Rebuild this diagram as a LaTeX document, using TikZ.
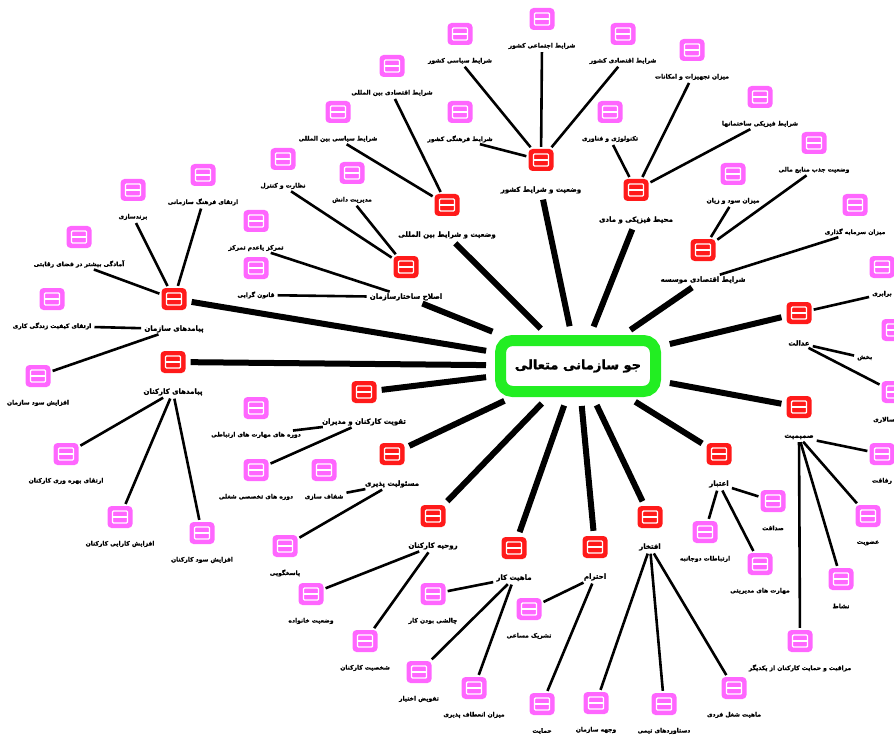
\documentclass[tikz,border=0pt]{standalone}
\usepackage{fontspec}
\usepackage{tikz}
\usetikzlibrary{positioning,calc}
\newfontfamily\fa[Script=Arabic, BoldFeatures={FakeBold=1.2}]{DejaVu Sans}
\TeXXeTstate=1
\newcommand{\pe}[1]{\beginR#1\endR}
\definecolor{hubgreen}{HTML}{22EE22}
\definecolor{mainred}{HTML}{FF1A1A}
\definecolor{subpink}{HTML}{FF66FF}
\begin{document}
\begin{tikzpicture}[
  x=1pt, y=-1pt,
  ico/.style={fill=#1, rounded corners=4pt, minimum width=25pt, minimum height=22pt, inner sep=0pt,
    path picture={
      \draw[white, line width=1.4pt, rounded corners=1pt] ([shift={(5pt,5pt)}]path picture bounding box.south west) rectangle ([shift={(-5pt,-5pt)}]path picture bounding box.north east);
      \draw[white, line width=1.4pt] ([xshift=5pt]path picture bounding box.west) -- ([xshift=-5pt]path picture bounding box.east);
    }},
  ico/.default=subpink,
  lab/.style={font=\fa\bfseries\fontsize{6}{7}\selectfont, inner sep=1pt},
  mlab/.style={font=\fa\bfseries\fontsize{7}{8}\selectfont, inner sep=1pt},
  hub/.style={draw=hubgreen, line width=11pt, rounded corners=12pt, fill=white, minimum width=155pt, minimum height=51pt, font=\fa\bfseries\fontsize{13}{15}\selectfont},
  trunk/.style={line width=6pt, shorten <=5pt, shorten >=9pt},
  twig/.style={line width=2.6pt, shorten <=2pt, shorten >=2pt}
]
\useasboundingbox (0,0) rectangle (894,738);
% centre
\node[hub] (hub) at (578,366) {\pe{جو سازمانی متعالی}};
% main factors
\foreach \n/\x/\y/\txt in {
  k1/541/160/{وضعیت و شرایط کشور}, k2/636/190/{محیط فیزیکی و مادی},
  k3/703/250/{شرایط اقتصادی موسسه}, k4/799/313/{عدالت}, k5/799/407/{صمیمیت},
  k6/719/454/{اعتبار}, k7/650/517/{افتخار}, k8/595/547/{احترام},
  k9/514/548/{ماهیت کار}, k10/433/516/{روحیه کارکنان}, k11/392/454/{مسئولیت پذیری},
  k12/364/392/{تقویت کارکنان و مدیران}, k13/173/362/{پیامدهای کارکنان},
  k14/174/299/{پیامدهای سازمان}, k15/406/267/{اصلاح ساختارسازمان},
  k16/447/205/{وضعیت و شرایط بین المللی}} {
  \node[ico=mainred] (\n) at (\x,\y) {};
  \node[mlab] (\n-t) at ([yshift=-30pt]\n.center) {\pe{\txt}};
}
\foreach \a in {k1-t,k2-t,k3-t,k4,k5,k6,k7,k8,k9,k10,k11,k12,k13,k14,k15-t,k16-t}
  \draw[trunk] (\a) -- (hub);
% sub factors
\foreach \n/\x/\y/\txt in {
  c1a/542/19/{شرایط اجتماعی کشور}, c1b/460/34/{شرایط سیاسی کشور},
  c1c/460/112/{شرایط فرهنگی کشور}, c1d/623/34/{شرایط اقتصادی کشور},
  c2a/610/112/{تکنولوژی و فناوری}, c2b/692/50/{میزان تجهیزات و امکانات},
  c2c/760/97/{شرایط فیزیکی ساختمانها},
  c3a/814/143/{وضعیت جذب منابع مالی}, c3b/733/174/{میزان سود و زیان},
  c3c/855/205/{میزان سرمایه گذاری},
  c4a/882/267/{برابری}, c5a/882/454/{رفاقت}, c5b/868/516/{عضویت},
  c5c/841/579/{نشاط}, c5d/800/641/{مراقبت و حمایت کارکنان از یکدیگر},
  c6a/773/501/{صداقت}, c6b/705/532/{ارتباطات دوجانبه}, c6c/760/564/{مهارت های مدیریتی},
  c7a/596/703/{وجهه سازمان}, c7b/664/704/{دستاوردهای تیمی}, c7c/734/688/{ماهیت شغل فردی},
  c8a/529/609/{تشریک مساعی}, c8b/542/704/{حمایت},
  c9a/433/594/{چالشی بودن کار}, c9b/419/672/{تفویض اختیار}, c9c/474/688/{میزان انعطاف پذیری},
  c10a/311/594/{وضعیت خانواده}, c10b/365/641/{شخصیت کارکنان},
  c11a/324/470/{شفاف سازی}, c11b/285/546/{پاسخگویی},
  c12a/256/408/{دوره های مهارت های ارتباطی}, c12b/256/470/{دوره های تخصصی شغلی},
  c13a/66/454/{ارتقای بهره وری کارکنان}, c13b/120/517/{افزایش کارایی کارکنان},
  c13c/202/533/{افزایش سود کارکنان},
  c14a/133/190/{برندسازی}, c14b/203/175/{ارتقای فرهنگ سازمانی},
  c14c/79/237/{آمادگی بیشتر در فضای رقابتی}, c14d/52/299/{ارتقای کیفیت زندگی کاری},
  c14e/38/376/{افزایش سود سازمان},
  c15a/256/268/{قانون گرایی}, c15b/256/221/{تمرکز یاعدم تمرکز},
  c15c/283/159/{نظارت و کنترل}, c15d/352/173/{مدیریت دانش},
  c16a/392/66/{شرایط اقتصادی بین المللی}, c16b/338/112/{شرایط سیاسی بین المللی}} {
  \node[ico] (\n) at (\x,\y) {};
  \node[lab] (\n-t) at ([yshift=-27pt]\n.center) {\pe{\txt}};
}
% cut at the right edge
\node[ico] (c4b) at (894,330) {};
\node[lab, anchor=west] (c4b-t) at (856,358) {\pe{بخش}};
\node[ico] (c4c) at (894,392) {};
\node[lab, anchor=west] (c4c-t) at (872,420) {\pe{سالاری}};
\foreach \a/\b in {
  c1a-t/k1, c1b-t/k1, c1c-t/k1, c1d-t/k1, c2a-t/k2, c2b-t/k2, c2c-t/k2,
  c3a-t/k3, c3b-t/k3, c3c-t/k3-t, c4a-t/k4, k4-t/c4b-t, k4-t/c4c,
  k5-t/c5a, k5-t/c5b, k5-t/c5c, k5-t/c5d, k6-t/c6a, k6-t/c6b, k6-t/c6c,
  k7-t/c7a, k7-t/c7b, k7-t/c7c, k8-t/c8a, k8-t/c8b, k9-t/c9a, k9-t/c9b, k9-t/c9c,
  k10-t/c10a, k10-t/c10b, k11-t/c11a-t, k11-t/c11b, k12-t/c12a-t, k12-t/c12b,
  k13-t/c13a, k13-t/c13b, k13-t/c13c,
  c14a-t/k14, c14b-t/k14, c14c-t/k14, c14d-t/k14-t, k14-t/c14e,
  c15a-t/k15-t, c15b-t/k15-t, c15c-t/k15, c15d-t/k15, c16a-t/k16, c16b-t/k16}
  \draw[twig] (\a) -- (\b);
\end{tikzpicture}
\end{document}
